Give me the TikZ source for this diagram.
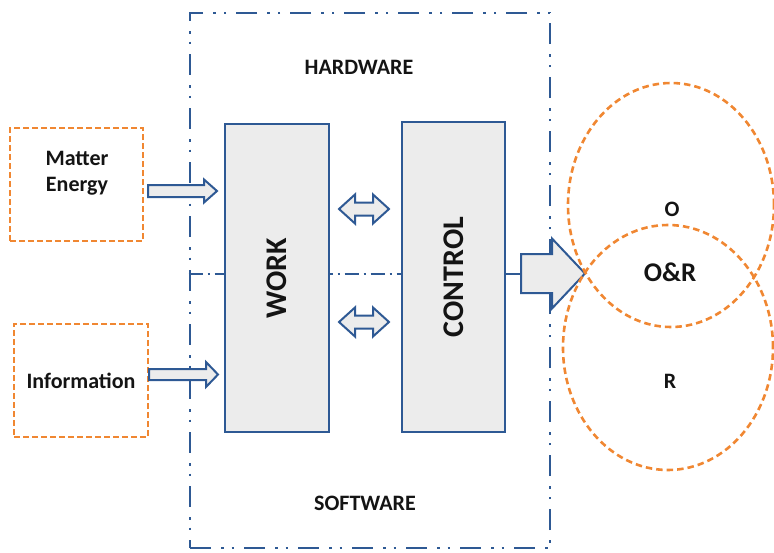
\documentclass[tikz,border=0pt]{standalone}
\usepackage{fontspec}
\setmainfont{Carlito}
\usetikzlibrary{calc,shapes.geometric}
\definecolor{dblue}{RGB}{46,89,148}
\definecolor{orng}{RGB}{240,135,50}
\definecolor{lgray}{RGB}{236,236,236}
\definecolor{txt}{RGB}{20,20,20}
% horizontal block arrow: style, start, end, shaft half, head half, head length
\newcommand{\harrow}[6]{%
  \draw[#1] let \p1=(#2), \p2=(#3) in
    (\x1,\y1-#4) -- (\x2-#6,\y1-#4) -- (\x2-#6,\y1-#5) -- (\x2,\y1)
    -- (\x2-#6,\y1+#5) -- (\x2-#6,\y1+#4) -- (\x1,\y1+#4) -- cycle;}
% horizontal double block arrow
\newcommand{\hdarrow}[6]{%
  \draw[#1] let \p1=(#2), \p2=(#3) in
    (\x1,\y1) -- (\x1+#6,\y1-#5) -- (\x1+#6,\y1-#4) -- (\x2-#6,\y1-#4)
    -- (\x2-#6,\y1-#5) -- (\x2,\y1) -- (\x2-#6,\y1+#5) -- (\x2-#6,\y1+#4)
    -- (\x1+#6,\y1+#4) -- (\x1+#6,\y1+#5) -- cycle;}
\begin{document}
\begin{tikzpicture}[x=1pt,y=-1pt,
  outerbox/.style={draw=dblue, line width=2.6pt,
    dash pattern=on 21pt off 10pt on 2.5pt off 8pt on 2.5pt off 10pt},
  divider/.style={draw=dblue, line width=2pt,
    dash pattern=on 14pt off 5pt on 2pt off 5pt},
  block/.style={draw=dblue, line width=2pt, fill=lgray, inner sep=0pt,
    text=txt, font=\fontsize{30}{35}\selectfont\bfseries},
  inbox/.style={draw=orng, line width=2.4pt, dash pattern=on 6pt off 3pt,
    inner sep=0pt, align=center, text=txt},
  circ/.style={ellipse, draw=orng, line width=2.6pt, dash pattern=on 6.5pt off 4pt,
    inner sep=0pt},
  lbl/.style={text=txt, font=\fontsize{22}{26}\selectfont\bfseries, inner sep=0pt, align=center},
  blbl/.style={text=txt, font=\fontsize{27}{32}\selectfont\bfseries, inner sep=0pt},
  barrow/.style={draw=dblue, line width=2pt, fill=lgray, line join=miter},
  link/.style={draw=dblue, line width=2pt}
]
\useasboundingbox (0,0) rectangle (774,552);

% outer system boundary
\node[outerbox, minimum width=360pt, minimum height=535pt, inner sep=0pt] (sys) at (370,280.5) {};
\node[lbl] (hw) at (359,67) {HARDWARE};
\node[lbl] (sw) at (365,503) {SOFTWARE};

% divider and connector to big arrow
\coordinate (bigA) at (521,273.5);
\coordinate (tip) at (585,272.5);
\draw[divider] (sys.west |- bigA) -- (bigA);

% blocks
\node[block, minimum width=104pt, minimum height=308pt] (work) at (277,278) {\rotatebox{90}{WORK}};
\node[block, minimum width=103pt, minimum height=310pt] (control) at (453.5,277) {\rotatebox{90}{CONTROL}};

% inputs
\node[inbox, minimum width=133pt, minimum height=113pt] (me) at (76.5,184.5) {};
\node[lbl] (metxt) at ($(me.center)+(0.5,-11)$) {Matter\\Energy};
\node[inbox, minimum width=134pt, minimum height=113pt, font=\fontsize{22}{26}\selectfont\bfseries] (info) at (81,380.5) {Information};

% input arrows
\coordinate (a1s) at ($(me.east)+(4,6.5)$);
\coordinate (a1e) at ($(a1s -| work.west)+(-7,0)$);
\harrow{barrow}{a1s}{a1e}{6}{11.5}{13}
\coordinate (a2s) at ($(info.east)+(0,-6)$);
\coordinate (a2e) at ($(a2s -| work.west)+(-6,0)$);
\harrow{barrow}{a2s}{a2e}{5.5}{12.5}{12}

% double arrows between work and control
\coordinate (d1s) at ($(work.east)+(9,-69)$);
\coordinate (d1e) at ($(d1s -| control.west)+(-12,0)$);
\hdarrow{barrow}{d1s}{d1e}{6.5}{14.5}{16}
\coordinate (d2s) at ($(work.east)+(9,44)$);
\coordinate (d2e) at ($(d2s -| control.west)+(-12,0)$);
\hdarrow{barrow}{d2s}{d2e}{6.5}{14.5}{16}

% output arrow
\draw[link] (control.east |- bigA) -- (bigA);
\harrow{barrow}{bigA}{tip}{19.5}{35}{33}

% outcome ellipses
\node[circ, minimum width=206pt, minimum height=244pt] (oc) at (671,205) {};
\node[circ, minimum width=210pt, minimum height=245pt] (rc) at (668,347.5) {};
\node[lbl] (o) at (672,209) {O};
\node[blbl] (or) at (670,272) {O\&R};
\node[lbl] (r) at (670,381) {R};
\end{tikzpicture}
\end{document}
